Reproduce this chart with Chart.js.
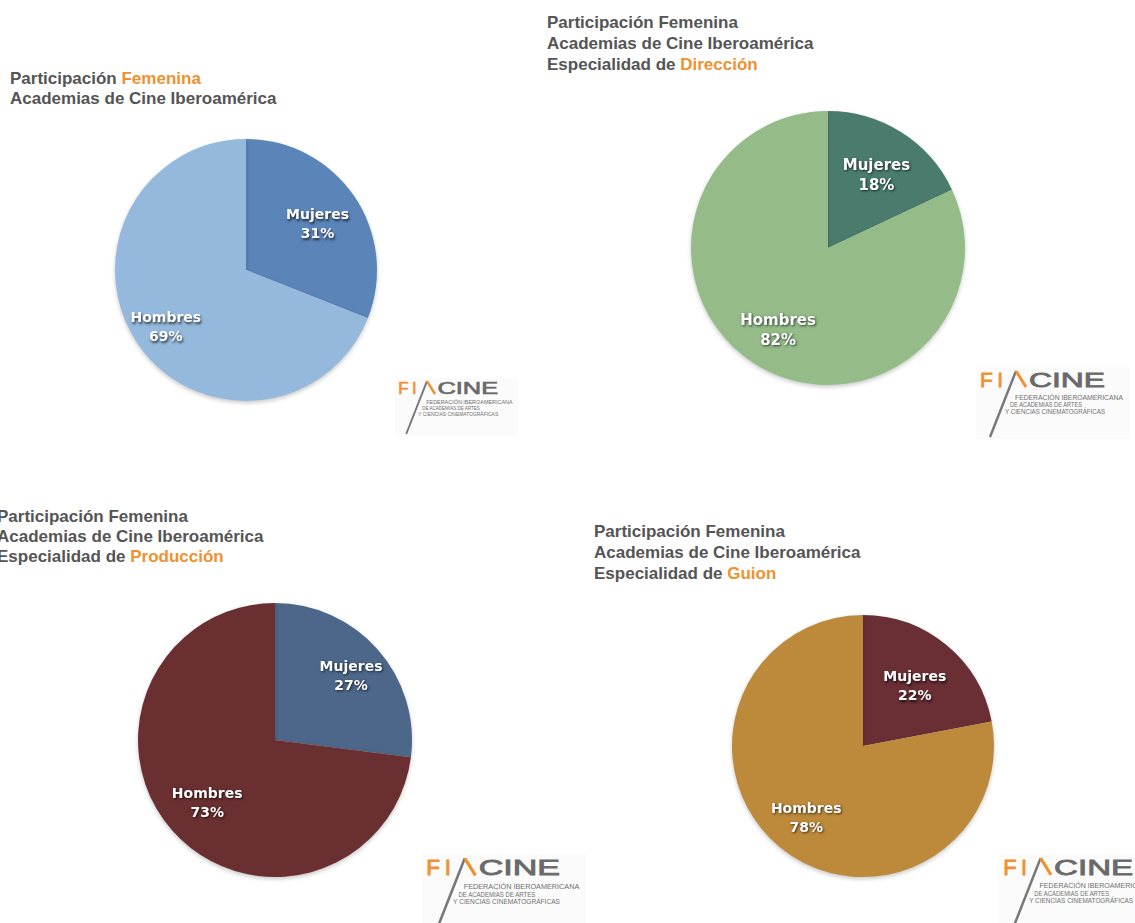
<!DOCTYPE html>
<html>
<head>
<meta charset="utf-8">
<script src="https://cdn.jsdelivr.net/npm/chart.js@4"></script>
<style>
  html, body { margin: 0; padding: 0; background: #fff; }
  body { width: 1135px; height: 923px; position: relative; overflow: hidden; }
  .title { position: absolute; font: bold 17px "Liberation Sans", Arial, sans-serif; color: #555555; line-height: 20px; white-space: nowrap; }
  .title .hl { color: #f0912f; }
  .pie { position: absolute; }
  .logo { position: absolute; }
</style>
</head>
<body>

<div class="title" style="left:10px; top:69px;">Participación <span class="hl">Femenina</span><br>Academias de Cine Iberoamérica</div>
<div class="title" style="left:547px; top:12px; line-height:21px;">Participación Femenina<br>Academias de Cine Iberoamérica<br>Especialidad de <span class="hl">Dirección</span></div>
<div class="title" style="left:-3px; top:507px;">Participación Femenina<br>Academias de Cine Iberoamérica<br>Especialidad de <span class="hl">Producción</span></div>
<div class="title" style="left:594px; top:521px; line-height:21px;">Participación Femenina<br>Academias de Cine Iberoamérica<br>Especialidad de <span class="hl">Guion</span></div>

<canvas id="pieGeneral" class="pie" width="272" height="272" style="left:110px; top:134px;"></canvas>
<canvas id="pieDireccion" class="pie" width="284" height="284" style="left:686px; top:106px;"></canvas>
<canvas id="pieProduccion" class="pie" width="284" height="284" style="left:133px; top:598px;"></canvas>
<canvas id="pieGuion" class="pie" width="272" height="272" style="left:727px; top:610px;"></canvas>

<div id="logos"></div>

<script>
// categories and values
var categories = ["Mujeres", "Hombres"];
var valuesGeneral = [31, 69];
var valuesDireccion = [18, 82];
var valuesProduccion = [27, 73];
var valuesGuion = [22, 78];

var colorsGeneral = ["#5b84b8", "#94b9dc"];
var colorsDireccion = ["#4a7c6e", "#94bb88"];
var colorsProduccion = ["#4c6789", "#6a2f31"];
var colorsGuion = ["#6a2f35", "#bd8a3b"];

// white bold labels with a soft shadow, inside each slice
var sliceLabels = {
	id: "sliceLabels",
	afterDatasetsDraw: function (chart, args, opts) {
		var ctx = chart.ctx;
		var meta = chart.getDatasetMeta(0);
		var data = chart.data.datasets[0].data;
		ctx.save();
		ctx.font = "bold " + opts.size + "px 'DejaVu Sans', Verdana, sans-serif";
		ctx.textAlign = "center";
		ctx.textBaseline = "alphabetic";
		ctx.fillStyle = "#ffffff";
		ctx.shadowColor = "rgba(0,0,0,0.7)";
		ctx.shadowBlur = 2.5;
		ctx.shadowOffsetX = 1;
		ctx.shadowOffsetY = 1.5;
		meta.data.forEach(function (arc, i) {
			var p = arc.getProps(["x", "y", "startAngle", "endAngle", "outerRadius"], true);
			var mid = (p.startAngle + p.endAngle) / 2;
			var r = p.outerRadius * opts.dist[i];
			var cx = p.x + Math.cos(mid) * r;
			var cy = p.y + Math.sin(mid) * r;
			ctx.fillText(chart.data.labels[i], cx, cy - 2);
			ctx.fillText(data[i] + "%", cx, cy + opts.size + 3);
		});
		ctx.restore();
	},
};

// faint drop shadow under the disc
var discShadow = {
	id: "discShadow",
	beforeDatasetsDraw: function (chart) {
		var ctx = chart.ctx;
		ctx.save();
		ctx.shadowColor = "rgba(0,0,0,0.22)";
		ctx.shadowBlur = 4;
		ctx.shadowOffsetY = 2;
	},
	afterDatasetsDraw: function (chart) {
		chart.ctx.restore();
	},
};

function makePie(id, values, colors, dist, size) {
	new Chart(document.getElementById(id), {
		type: "pie",
		data: {
			labels: categories,
			datasets: [
				{
					data: values,
					backgroundColor: colors,
					borderWidth: 0,
				},
			],
		},
		options: {
			responsive: false,
			animation: false,
			layout: { padding: 5 },
			plugins: {
				legend: { display: false },
				tooltip: { enabled: false },
				sliceLabels: { dist: dist, size: size },
			},
		},
		plugins: [discShadow, sliceLabels],
	});
}

makePie("pieGeneral", valuesGeneral, colorsGeneral, [0.66, 0.74], 14);
makePie("pieDireccion", valuesDireccion, colorsDireccion, [0.66, 0.68], 15);
makePie("pieProduccion", valuesProduccion, colorsProduccion, [0.74, 0.66], 14);
makePie("pieGuion", valuesGuion, colorsGuion, [0.62, 0.68], 14);

// FIACINE logos
var logoSpots = [
	{ x: 398, y: 381, s: 0.8 },
	{ x: 980, y: 371, s: 1.0 },
	{ x: 426, y: 858, s: 1.07 },
	{ x: 1003, y: 858, s: 1.04 },
];
var logoSvg =
	'<svg xmlns="http://www.w3.org/2000/svg" viewBox="-4 -4 154 72" width="100%" height="100%">' +
	'<rect x="-4" y="-4" width="154" height="72" fill="#fbfbfb"/>' +
	'<text x="0" y="16" font-family="Liberation Sans, Arial, sans-serif" font-size="21" fill="#f0912f" stroke="#f0912f" stroke-width="0.8" textLength="23" lengthAdjust="spacing">FI</text>' +
	'<line x1="36" y1="0" x2="10" y2="66" stroke="#777" stroke-width="2.4"/>' +
	'<line x1="36" y1="0" x2="46" y2="16" stroke="#f0912f" stroke-width="3"/>' +
	'<text x="49" y="16" font-family="Liberation Sans, Arial, sans-serif" font-size="21" fill="#6a6a6a" stroke="#6a6a6a" stroke-width="0.8" textLength="76" lengthAdjust="spacingAndGlyphs">CINE</text>' +
	'<g font-family="Liberation Sans, Arial, sans-serif" font-size="6.5" fill="#6f6f6f">' +
	'<text x="35" y="29" textLength="108" lengthAdjust="spacingAndGlyphs">FEDERACIÓN IBEROAMERICANA</text>' +
	'<text x="30" y="36" textLength="72" lengthAdjust="spacingAndGlyphs">DE ACADEMIAS DE ARTES</text>' +
	'<text x="25" y="43" textLength="100" lengthAdjust="spacingAndGlyphs">Y CIENCIAS CINEMATOGRÁFICAS</text>' +
	"</g></svg>";
var holder = document.getElementById("logos");
logoSpots.forEach(function (p) {
	var d = document.createElement("div");
	d.className = "logo";
	d.style.left = p.x - 4 * p.s + "px";
	d.style.top = p.y - 4 * p.s + "px";
	d.style.width = 154 * p.s + "px";
	d.style.height = 72 * p.s + "px";
	d.innerHTML = logoSvg;
	holder.appendChild(d);
});
</script>
</body>
</html>
